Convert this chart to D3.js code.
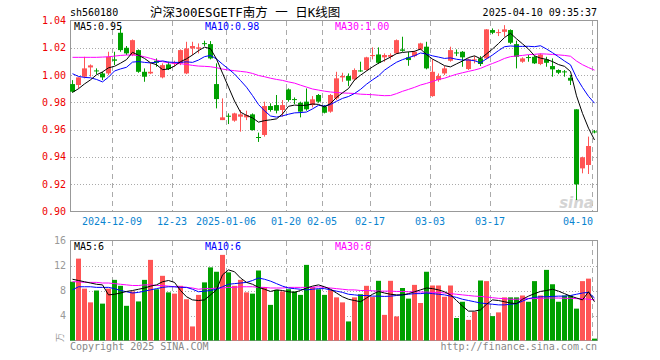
<!DOCTYPE html>
<html>
<head>
<meta charset="utf-8">
<script src="https://cdn.jsdelivr.net/npm/d3@7"></script>
<style>
  body { margin: 0; background: #fff; }
  text { font-family: "DejaVu Sans Mono", "Noto Sans CJK SC", monospace; }
</style>
</head>
<body>
<div class="kline"></div>
<script>
// Handelsdagar
const dates = [
  "2024-11-28","2024-11-29",
  "2024-12-02","2024-12-03","2024-12-04","2024-12-05","2024-12-06",
  "2024-12-09","2024-12-10","2024-12-11","2024-12-12","2024-12-13",
  "2024-12-16","2024-12-17","2024-12-18","2024-12-19","2024-12-20",
  "2024-12-23","2024-12-24","2024-12-25","2024-12-26","2024-12-27",
  "2024-12-30","2024-12-31","2025-01-02","2025-01-03",
  "2025-01-06","2025-01-07","2025-01-08","2025-01-09","2025-01-10",
  "2025-01-13","2025-01-14","2025-01-15","2025-01-16","2025-01-17",
  "2025-01-20","2025-01-21","2025-01-22","2025-01-23","2025-01-24","2025-01-27",
  "2025-02-05","2025-02-06","2025-02-07",
  "2025-02-10","2025-02-11","2025-02-12","2025-02-13","2025-02-14",
  "2025-02-17","2025-02-18","2025-02-19","2025-02-20","2025-02-21",
  "2025-02-24","2025-02-25","2025-02-26","2025-02-27","2025-02-28",
  "2025-03-03","2025-03-04","2025-03-05","2025-03-06","2025-03-07",
  "2025-03-10","2025-03-11","2025-03-12","2025-03-13","2025-03-14",
  "2025-03-17","2025-03-18","2025-03-19","2025-03-20","2025-03-21",
  "2025-03-24","2025-03-25","2025-03-26","2025-03-27","2025-03-28",
  "2025-03-31","2025-04-01","2025-04-02","2025-04-03",
  "2025-04-07","2025-04-08","2025-04-09","2025-04-10"
];

const open = [
  0.9934,0.9927,0.9988,1.0056,1.0034,1.0012,1.0012,1.0115,1.0310,1.0200,
  1.0147,1.0183,1.0024,1.0012,1.0105,0.9983,1.0078,1.0081,1.0086,1.0012,
  1.0195,1.0193,1.0234,1.0227,0.9934,0.9670,0.9702,0.9666,0.9695,0.9690,
  0.9712,0.9546,0.9561,0.9773,0.9780,0.9744,0.9895,0.9824,0.9797,0.9805,
  0.9780,0.9854,0.9768,0.9732,0.9829,0.9983,0.9993,0.9968,1.0034,1.0037,
  1.0139,1.0151,1.0130,1.0134,1.0159,1.0188,1.0130,1.0139,1.0188,1.0208,
  0.9846,0.9963,1.0012,1.0105,1.0166,1.0171,1.0044,1.0110,1.0122,1.0122,
  1.0330,1.0310,1.0317,1.0330,1.0227,1.0098,1.0132,1.0134,1.0081,1.0115,
  1.0066,1.0037,1.0027,0.9980,0.9749,0.9316,0.9341,0.9587
];
const high = [
  0.9963,0.9983,1.0134,1.0078,1.0049,1.0024,1.0171,1.0171,1.0349,1.0213,
  1.0261,1.0188,1.0049,1.0086,1.0122,1.0086,1.0098,1.0105,1.0188,1.0244,
  1.0244,1.0232,1.0252,1.0249,1.0086,0.9829,0.9719,0.9724,0.9744,0.9739,
  0.9719,0.9578,0.9805,0.9793,0.9854,0.9817,0.9902,0.9836,0.9805,0.9902,
  0.9846,0.9861,0.9780,0.9861,1.0024,1.0017,1.0012,1.0049,1.0098,1.0134,
  1.0203,1.0203,1.0159,1.0159,1.0261,1.0281,1.0171,1.0178,1.0237,1.0244,
  1.0115,1.0012,1.0066,1.0208,1.0188,1.0176,1.0122,1.0139,1.0139,1.0337,
  1.0342,1.0335,1.0366,1.0335,1.0252,1.0130,1.0147,1.0139,1.0159,1.0134,
  1.0122,1.0042,1.0037,1.0000,0.9749,0.9402,0.9549,0.9597
];
const low = [
  0.9871,0.9902,0.9976,0.9988,1.0007,0.9963,1.0000,1.0073,1.0171,1.0147,
  1.0139,1.0017,0.9951,1.0007,1.0061,0.9976,1.0037,1.0061,1.0073,1.0007,
  1.0147,1.0159,1.0213,1.0115,0.9756,0.9670,0.9641,0.9658,0.9585,0.9670,
  0.9593,0.9510,0.9549,0.9732,0.9719,0.9695,0.9805,0.9788,0.9690,0.9739,
  0.9763,0.9797,0.9719,0.9724,0.9817,0.9951,0.9919,0.9959,1.0024,1.0032,
  1.0115,1.0081,1.0098,1.0115,1.0154,1.0171,1.0068,1.0130,1.0183,1.0042,
  0.9841,0.9951,1.0000,1.0098,1.0139,1.0061,1.0037,1.0086,1.0066,1.0115,
  1.0300,1.0286,1.0281,1.0227,1.0049,1.0090,1.0098,1.0081,1.0073,1.0061,
  0.9988,1.0007,0.9988,0.9927,0.9084,0.9280,0.9275,0.9573
];
const close = [
  0.9878,0.9983,1.0049,1.0071,1.0029,0.9983,1.0134,1.0105,1.0183,1.0159,
  1.0256,1.0024,0.9988,1.0024,1.0090,1.0073,1.0044,1.0090,1.0183,1.0195,
  1.0213,1.0203,1.0230,1.0122,0.9824,0.9690,0.9695,0.9719,0.9712,0.9707,
  0.9597,0.9541,0.9773,0.9744,0.9739,0.9780,0.9817,0.9819,0.9732,0.9749,
  0.9822,0.9805,0.9724,0.9854,0.9976,0.9993,0.9959,1.0037,1.0029,1.0130,
  1.0147,1.0090,1.0147,1.0147,1.0256,1.0178,1.0110,1.0171,1.0232,1.0049,
  1.0024,0.9993,1.0049,1.0183,1.0161,1.0130,1.0115,1.0115,1.0081,1.0335,
  1.0310,1.0315,1.0335,1.0237,1.0134,1.0122,1.0127,1.0086,1.0151,1.0090,
  1.0042,1.0017,1.0022,0.9959,0.9199,0.9397,0.9480,0.9583
];

// Glidande medelvärden
const ma5 = [
  0.9873,0.9900,0.9935,0.9965,1.0002,1.0023,1.0053,1.0064,1.0087,1.0113,
  1.0167,1.0145,1.0122,1.0090,1.0076,1.0040,1.0044,1.0066,1.0098,1.0119,
  1.0147,1.0179,1.0205,1.0193,1.0118,1.0014,0.9912,0.9810,0.9728,0.9705,
  0.9686,0.9655,0.9666,0.9672,0.9679,0.9715,0.9771,0.9780,0.9777,0.9779,
  0.9788,0.9785,0.9766,0.9791,0.9836,0.9870,0.9901,0.9964,0.9999,1.0030,
  1.0060,1.0087,1.0109,1.0132,1.0157,1.0166,1.0170,1.0174,1.0191,1.0150,
  1.0117,1.0094,1.0069,1.0060,1.0082,1.0103,1.0128,1.0141,1.0120,1.0155,
  1.0191,1.0231,1.0275,1.0306,1.0266,1.0229,1.0191,1.0141,1.0124,1.0115,
  1.0099,1.0077,1.0064,1.0026,0.9848,0.9719,0.9611,0.9524
];
const ma10 = [
  1.0010,0.9990,0.9983,0.9980,0.9968,0.9950,0.9985,1.0030,1.0045,1.0057,
  1.0095,1.0099,1.0093,1.0089,1.0095,1.0104,1.0095,1.0093,1.0093,1.0097,
  1.0093,1.0110,1.0135,1.0144,1.0118,1.0080,1.0045,1.0008,0.9960,0.9911,
  0.9850,0.9784,0.9738,0.9700,0.9692,0.9701,0.9713,0.9723,0.9725,0.9729,
  0.9752,0.9778,0.9773,0.9784,0.9808,0.9829,0.9843,0.9865,0.9895,0.9933,
  0.9965,0.9994,1.0036,1.0066,1.0094,1.0113,1.0128,1.0142,1.0162,1.0154,
  1.0141,1.0132,1.0122,1.0126,1.0116,1.0110,1.0111,1.0105,1.0090,1.0119,
  1.0147,1.0179,1.0208,1.0213,1.0211,1.0210,1.0211,1.0208,1.0215,1.0191,
  1.0164,1.0134,1.0103,1.0075,0.9981,0.9909,0.9844,0.9794
];
const ma30 = [
  1.0130,1.0130,1.0130,1.0130,1.0130,1.0132,1.0134,1.0139,1.0144,1.0147,
  1.0147,1.0144,1.0134,1.0122,1.0110,1.0098,1.0090,1.0086,1.0083,1.0078,
  1.0071,1.0066,1.0064,1.0061,1.0054,1.0044,1.0037,1.0032,1.0027,1.0022,
  1.0012,0.9997,0.9988,0.9977,0.9968,0.9961,0.9950,0.9941,0.9926,0.9912,
  0.9898,0.9890,0.9882,0.9876,0.9872,0.9869,0.9867,0.9865,0.9860,0.9858,
  0.9856,0.9852,0.9849,0.9850,0.9864,0.9881,0.9895,0.9910,0.9927,0.9939,
  0.9953,0.9968,0.9977,0.9992,1.0006,1.0017,1.0027,1.0037,1.0049,1.0068,
  1.0085,1.0102,1.0122,1.0135,1.0140,1.0144,1.0150,1.0152,1.0156,1.0154,
  1.0151,1.0148,1.0144,1.0138,1.0103,1.0076,1.0055,1.0036
];

// Volym (万)
const volume = [
  9.4,13.1,8.3,6.1,8.0,5.9,8.3,9.7,8.75,5.55,
  7.85,6.25,9.7,12.9,8.2,10.35,7.7,7.5,8.75,6.6,
  2.25,7.3,9.3,11.7,11.0,13.7,10.9,8.75,9.7,7.7,
  7.5,11.2,8.55,5.7,8.1,7.85,8.2,7.85,7.3,12.1,
  8.55,8.2,7.3,8.1,6.9,6.1,3.05,6.9,7.4,8.75,
  6.95,9.55,4.1,9.55,3.85,8.4,6.7,8.9,6.0,11.0,
  8.8,8.8,7.0,8.8,3.6,6.2,3.3,4.6,9.6,9.5,
  3.9,4.5,6.9,6.9,6.9,7.2,6.2,9.5,7.2,11.3,
  9.0,6.2,7.2,7.2,5.1,9.5,9.9,0.3
];
const volMa5 = [
  9.8,9.6,9.4,9.2,9.0,8.9,7.3,7.4,7.6,7.85,
  8.0,8.2,8.4,8.7,8.9,9.4,9.6,9.3,8.0,7.0,
  6.5,6.4,6.5,7.3,8.1,10.5,11.3,11.0,10.0,9.3,
  9.0,8.5,8.2,7.85,8.1,8.0,7.8,7.7,8.0,8.4,
  8.7,8.9,8.6,8.2,7.6,7.0,6.6,6.4,6.2,6.8,
  7.4,7.85,7.6,7.4,7.3,7.3,7.5,7.8,8.1,8.4,
  8.3,8.1,7.8,7.3,6.4,5.5,4.7,4.7,4.9,5.8,
  6.5,6.4,6.2,6.0,5.9,6.6,7.1,7.5,7.85,8.0,
  8.2,7.9,7.5,7.1,6.8,6.5,7.8,6.2
];
const volMa10 = [
  8.1,8.6,8.6,8.6,8.5,8.5,8.5,8.3,8.0,7.8,
  7.6,7.7,7.9,8.1,8.3,8.5,8.6,8.6,8.5,8.5,
  8.2,7.8,7.9,8.0,8.2,8.6,9.0,9.1,9.2,9.3,
  9.6,10.0,9.8,9.5,9.1,8.7,8.4,8.3,8.2,8.1,
  8.2,8.3,8.3,8.1,7.9,7.7,7.4,7.3,7.2,7.2,
  7.1,7.1,7.05,7.1,7.2,7.3,7.4,7.5,7.5,7.6,
  7.5,7.4,7.3,7.1,6.9,6.6,6.4,6.2,6.0,5.9,
  5.8,5.7,5.7,5.8,5.9,6.3,6.7,6.9,7.0,7.0,
  7.05,7.1,7.1,7.2,7.4,7.6,7.7,6.8
];
const volMa30 = [
  9.4,9.4,9.3,9.3,9.3,9.2,9.2,9.1,9.0,8.9,
  8.8,8.8,8.9,8.9,8.8,8.8,8.7,8.6,8.6,8.5,
  8.4,8.2,8.3,8.3,8.4,8.4,8.5,8.5,8.6,8.6,
  8.6,8.5,8.5,8.4,8.4,8.4,8.5,8.5,8.5,8.5,
  8.5,8.6,8.5,8.4,8.3,8.2,8.1,8.1,8.0,8.0,
  7.95,7.9,7.9,7.9,7.85,7.85,7.8,7.8,7.75,7.75,
  7.7,7.7,7.6,7.5,7.4,7.3,7.2,7.1,7.05,6.95,
  6.85,6.75,6.7,6.6,6.6,6.65,6.7,6.7,6.75,6.8,
  6.8,6.8,6.75,6.75,6.7,6.7,6.6,6.5
];

// Axlar
const priceTicks = [1.04, 1.02, 1.00, 0.98, 0.96, 0.94, 0.92, 0.90];
const volTicks = [16, 12, 8, 4];
const dateTicks = ["2024-12-09","2024-12-23","2025-01-06","2025-01-20","2025-02-05","2025-02-17","2025-03-03","2025-03-17","2025-04-10"];
const dateTickLabels = ["2024-12-09","12-23","2025-01-06","01-20","02-05","02-17","03-03","03-17","04-10"];

const RED = "#ff5555";
const GREEN = "#00a000";

function createKline() {
    const svg = d3.select("div.kline").append("svg")
        .attr("width", 660)
        .attr("height", 360);

    const left = 70, right = 598;
    const x = d3.scaleBand().domain(dates).range([left, right]);
    const y = d3.scaleLinear().domain([0.90, 1.04]).range([211.5, 20.5]);
    const yv = d3.scaleLinear().domain([0, 16]).range([340.5, 240.5]);

    const rows = dates.map((d, i) => ({
        date: d, o: open[i], h: high[i], l: low[i], c: close[i], v: volume[i]
    }));
    const up = d => d.c >= d.o;

    // Rutnät
    function grid(yScale, ticks, top, bottom) {
        svg.append("g").selectAll("line.h")
            .data(ticks)
            .enter().append("line")
            .attr("x1", left + 1).attr("x2", right - 1)
            .attr("y1", d => Math.round(yScale(d)) + 0.5)
            .attr("y2", d => Math.round(yScale(d)) + 0.5)
            .attr("stroke", "#aaa")
            .attr("stroke-dasharray", "1,2");
        svg.append("g").selectAll("line.v")
            .data(dateTicks)
            .enter().append("line")
            .attr("x1", d => x(d) + 0.5).attr("x2", d => x(d) + 0.5)
            .attr("y1", top).attr("y2", bottom)
            .attr("stroke", "#aaa")
            .attr("stroke-dasharray", "5,4");
    }
    grid(y, priceTicks.slice(1, -1), 21, 211);
    grid(yv, volTicks.slice(1), 241, 340);

    // Ramar
    svg.append("rect").attr("x", 70.5).attr("y", 20.5).attr("width", 527).attr("height", 191)
        .attr("fill", "none").attr("stroke", "#999");
    svg.append("rect").attr("x", 70.5).attr("y", 240.5).attr("width", 527).attr("height", 100)
        .attr("fill", "none").attr("stroke", "#999");

    // Sina-logga
    svg.append("text")
        .attr("x", 594).attr("y", 208)
        .attr("text-anchor", "end")
        .style("font-family", "DejaVu Sans")
        .style("font-style", "italic")
        .style("font-weight", "bold")
        .style("font-size", "15px")
        .attr("fill", "#d4d4d4")
        .text("sina");

    // Ljus: vekar och kroppar
    const candles = svg.append("g");
    candles.selectAll(".wick")
        .data(rows)
        .enter().append("rect")
        .attr("x", d => x(d.date) + 2)
        .attr("width", 1)
        .attr("y", d => y(d.h))
        .attr("height", d => Math.max(1, y(d.l) - y(d.h)))
        .attr("fill", d => up(d) ? RED : GREEN);
    candles.selectAll(".body")
        .data(rows)
        .enter().append("rect")
        .attr("x", d => x(d.date))
        .attr("width", 5)
        .attr("y", d => y(Math.max(d.o, d.c)))
        .attr("height", d => Math.max(1, Math.abs(y(d.o) - y(d.c))))
        .attr("fill", d => up(d) ? RED : GREEN);

    // MA-linjer
    function maLine(values, yScale, color) {
        const line = d3.line()
            .x((d, i) => x(dates[i]) + 2.5)
            .y(d => yScale(d));
        svg.append("path")
            .datum(values)
            .attr("d", line)
            .attr("fill", "none")
            .attr("stroke", color)
            .attr("stroke-width", 1);
    }
    maLine(ma30, y, "#ff00ff");
    maLine(ma10, y, "#0000ff");
    maLine(ma5, y, "#000");

    // Volymstaplar
    svg.append("g").selectAll(".vol")
        .data(rows)
        .enter().append("rect")
        .attr("x", d => x(d.date))
        .attr("width", 5)
        .attr("y", d => yv(d.v))
        .attr("height", d => yv(0) - yv(d.v))
        .attr("fill", d => up(d) ? RED : GREEN);
    maLine(volMa30, yv, "#ff00ff");
    maLine(volMa10, yv, "#0000ff");
    maLine(volMa5, yv, "#000");

    // Y-axel etiketter
    svg.append("g").selectAll("text")
        .data(priceTicks)
        .enter().append("text")
        .attr("x", 66)
        .attr("y", d => y(d) + 3.5)
        .attr("text-anchor", "end")
        .style("font-size", "10px")
        .attr("fill", "#e00")
        .text(d => d.toFixed(2));
    svg.append("g").selectAll("text")
        .data(volTicks)
        .enter().append("text")
        .attr("x", 66)
        .attr("y", d => yv(d) + 3.5)
        .attr("text-anchor", "end")
        .style("font-size", "10px")
        .attr("fill", "#999")
        .text(d => d);
    svg.append("text")
        .attr("transform", "translate(63,342) rotate(-90)")
        .style("font-size", "9px")
        .attr("fill", "#999")
        .text("万");

    // X-axel datum
    svg.append("g").selectAll("text")
        .data(dateTicks)
        .enter().append("text")
        .attr("x", (d, i) => i === dateTicks.length - 1 ? x(d) + 1 : x(d))
        .attr("y", 225)
        .attr("text-anchor", (d, i) => i === dateTicks.length - 1 ? "end" : "middle")
        .style("font-size", "10px")
        .attr("fill", "#0a84d0")
        .text((d, i) => dateTickLabels[i]);

    // Rubriker
    svg.append("text").attr("x", 70).attr("y", 16)
        .style("font-size", "10px").attr("fill", "#000").text("sh560180");
    svg.append("text").attr("x", 150).attr("y", 17)
        .style("font-size", "12.5px").attr("fill", "#000").text("沪深300ESGETF南方 一 日K线图");
    svg.append("text").attr("x", 597).attr("y", 16).attr("text-anchor", "end")
        .style("font-size", "10px").attr("fill", "#000").text("2025-04-10 09:35:37");

    // MA-etiketter
    const last = dates.length - 1;
    const maLabels = [
        { x: 74, text: "MA5:" + ma5[last].toFixed(2), color: "#000" },
        { x: 205, text: "MA10:" + ma10[last].toFixed(2), color: "#0000ff" },
        { x: 335, text: "MA30:" + ma30[last].toFixed(2), color: "#ff00ff" }
    ];
    svg.append("g").selectAll("text")
        .data(maLabels)
        .enter().append("text")
        .attr("x", d => d.x).attr("y", 30)
        .style("font-size", "10px")
        .attr("fill", d => d.color)
        .text(d => d.text);
    // Volym-MA visas avkortat till heltal
    const volLabels = [
        { x: 74, text: "MA5:" + Math.floor(volMa5[last]), color: "#000" },
        { x: 205, text: "MA10:" + Math.floor(volMa10[last]), color: "#0000ff" },
        { x: 335, text: "MA30:" + Math.floor(volMa30[last]), color: "#ff00ff" }
    ];
    svg.append("g").selectAll("text")
        .data(volLabels)
        .enter().append("text")
        .attr("x", d => d.x).attr("y", 250)
        .style("font-size", "10px")
        .attr("fill", d => d.color)
        .text(d => d.text);

    // Sidfot
    svg.append("text").attr("x", 70).attr("y", 350)
        .style("font-size", "10px").attr("fill", "#888").text("Copyright 2025 SINA.COM");
    svg.append("text").attr("x", 597).attr("y", 350).attr("text-anchor", "end")
        .style("font-size", "10px").attr("fill", "#888").text("http://finance.sina.com.cn");
}

createKline();
</script>
</body>
</html>
